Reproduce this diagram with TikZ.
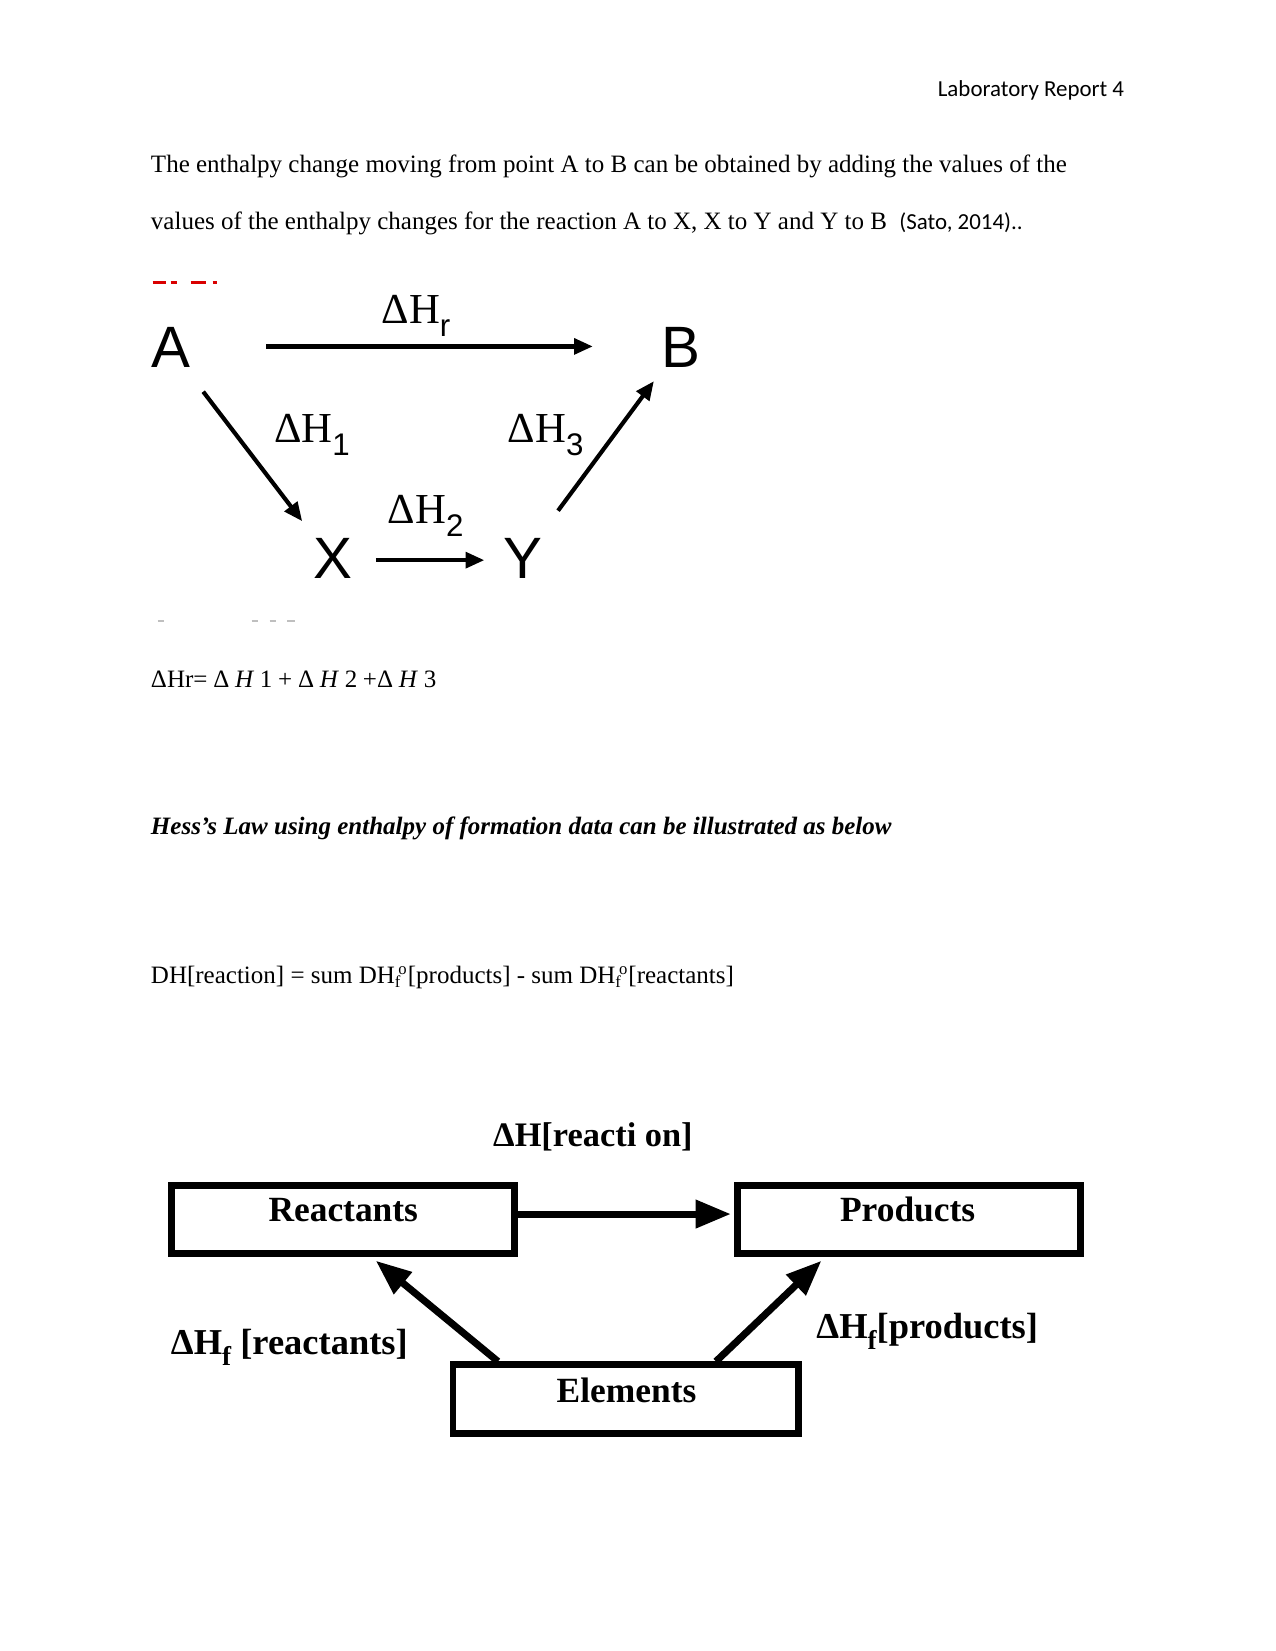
\documentclass[tikz,border=0pt]{standalone}
\usepackage{fontspec}
\setmainfont{Liberation Serif}
\setsansfont{Liberation Sans}
\newfontfamily\calibri{Carlito}
\usetikzlibrary{arrows.meta,calc}
\newcommand\fsubo{\textsubscript{f}\kern-0.12em\textsuperscript{o}}
\newcommand\dhsub[1]{\raisebox{-0.32em}{\sffamily\fontsize{15}{15}\selectfont #1}}
\newcommand\fsmall{\raisebox{-0.32em}{\fontsize{13}{13}\selectfont f}}
\begin{document}
\begin{tikzpicture}[x=0.50537pt,y=-0.50537pt,
  body/.style={anchor=base west, inner sep=0, font=\fontsize{12}{14}\selectfont},
  letter/.style={inner sep=0, font=\sffamily\fontsize{28}{30}\selectfont},
  dh/.style={anchor=base west, inner sep=0, font=\fontsize{20.5}{24}\selectfont},
  arrA/.style={line width=2pt, -{Triangle[length=9pt,width=7.5pt]}},
  box/.style={draw, line width=3.3pt, minimum width=164.5pt, minimum height=32.6pt, inner sep=0},
  arrB/.style={line width=3.4pt, -{Triangle[length=17pt,width=13pt]}},
  lbl/.style={inner sep=0, font=\bfseries\fontsize{17}{20}\selectfont},
  dhb/.style={anchor=base west, inner sep=0, font=\bfseries\fontsize{16.5}{20}\selectfont}]
\useasboundingbox (0,0) rectangle (1211,1568);
\fill[white] (0,0) rectangle (1211,1568);

% header and text
\node[anchor=base east, inner sep=0, font=\calibri\fontsize{11}{13}\selectfont] (hdr) at (1068,92) {Laboratory Report 4};
\node[body] (t1) at (143,164) {The enthalpy change moving from point A to B can be obtained by adding the values of the};
\node[body] (t2) at (143,218) {values of the enthalpy changes for the reaction A to X, X to Y and Y to B\ \ {\calibri\fontsize{11}{13}\selectfont (Sato, 2014)..}};

% artifacts of the clipped image
\draw[red!85!black, line width=1.3pt] (145,268)--(158,268) (162,268)--(168,268) (181,268)--(196,268) (202,268)--(206,268);
\draw[gray!50, line width=1pt] (150,590)--(156,590) (239,590)--(245,590) (256,590)--(262,590) (273,590)--(280,590);

% diagram 1
\node[letter] (A) at (162,330) {A};
\node[letter] (B) at (647,330) {B};
\node[letter] (X) at (316,530) {X};
\node[letter] (Y) at (497,530) {Y};
\draw[arrA] ($(A)+(91,-1)$) -- ($(B)+(-84,-1)$);
\draw[arrA] ($(A)+(31,42)$) -- ($(X)+(-29,-35)$);
\draw[arrA] ($(X)+(41,2)$) -- ($(Y)+(-37,2)$);
\draw[arrA] ($(Y)+(33,-45)$) -- ($(B)+(-26,32)$);
\node[dh] (hr) at (362,307) {ΔH\dhsub{r}};
\node[dh] (h1) at (260,420) {ΔH\dhsub{1}};
\node[dh] (h3) at (482,420) {ΔH\dhsub{3}};
\node[dh] (h2) at (368,497) {ΔH\dhsub{2}};

% equations
\node[body] (eq) at (143,653) {\spaceskip=2.75pt ΔHr= Δ \textit{H} 1 + Δ \textit{H} 2 +Δ \textit{H} 3};
\node[body, font=\bfseries\itshape\fontsize{12}{14}\selectfont] (hess) at (143,793) {Hess's Law using enthalpy of formation data can be illustrated as below};
\node[body] (dhe) at (143,934) {DH[reaction] = sum DH\fsubo[products] - sum DH\fsubo[reactants]};

% diagram 2
\node[box] (R) at (326,1158.5) {};
\node[box] (P) at (863.5,1158.5) {};
\node[box, minimum width=166pt, minimum height=33.1pt] (E) at (594.5,1329) {};
\node[lbl] (Rl) at (326,1149) {Reactants};
\node[lbl] (Pl) at (862,1149) {Products};
\node[lbl] (El) at (595,1320) {Elements};
\node[dhb] (rxn) at (468,1089) {ΔH[reacti on]};
\node[dhb, font=\bfseries\fontsize{17.5}{20}\selectfont] (hfr) at (162,1286) {ΔH\fsmall\ [reactants]};
\node[dhb, font=\bfseries\fontsize{17.5}{20}\selectfont] (hfp) at (775,1271) {ΔH\fsmall[products]};
\draw[arrB] ($(R.east)+(0,-5.5)$) -- ($(P.west)+(-3.3,-5.5)$);
\draw[arrB] ($(E.north west)!0.137!(E.north east)$) -- ($(R.south west)!0.593!(R.south east)+(0,3.3)$);
\draw[arrB] ($(E.north west)!0.755!(E.north east)$) -- ($(P.south west)!0.249!(P.south east)+(0,3.3)$);
\end{tikzpicture}
\end{document}
